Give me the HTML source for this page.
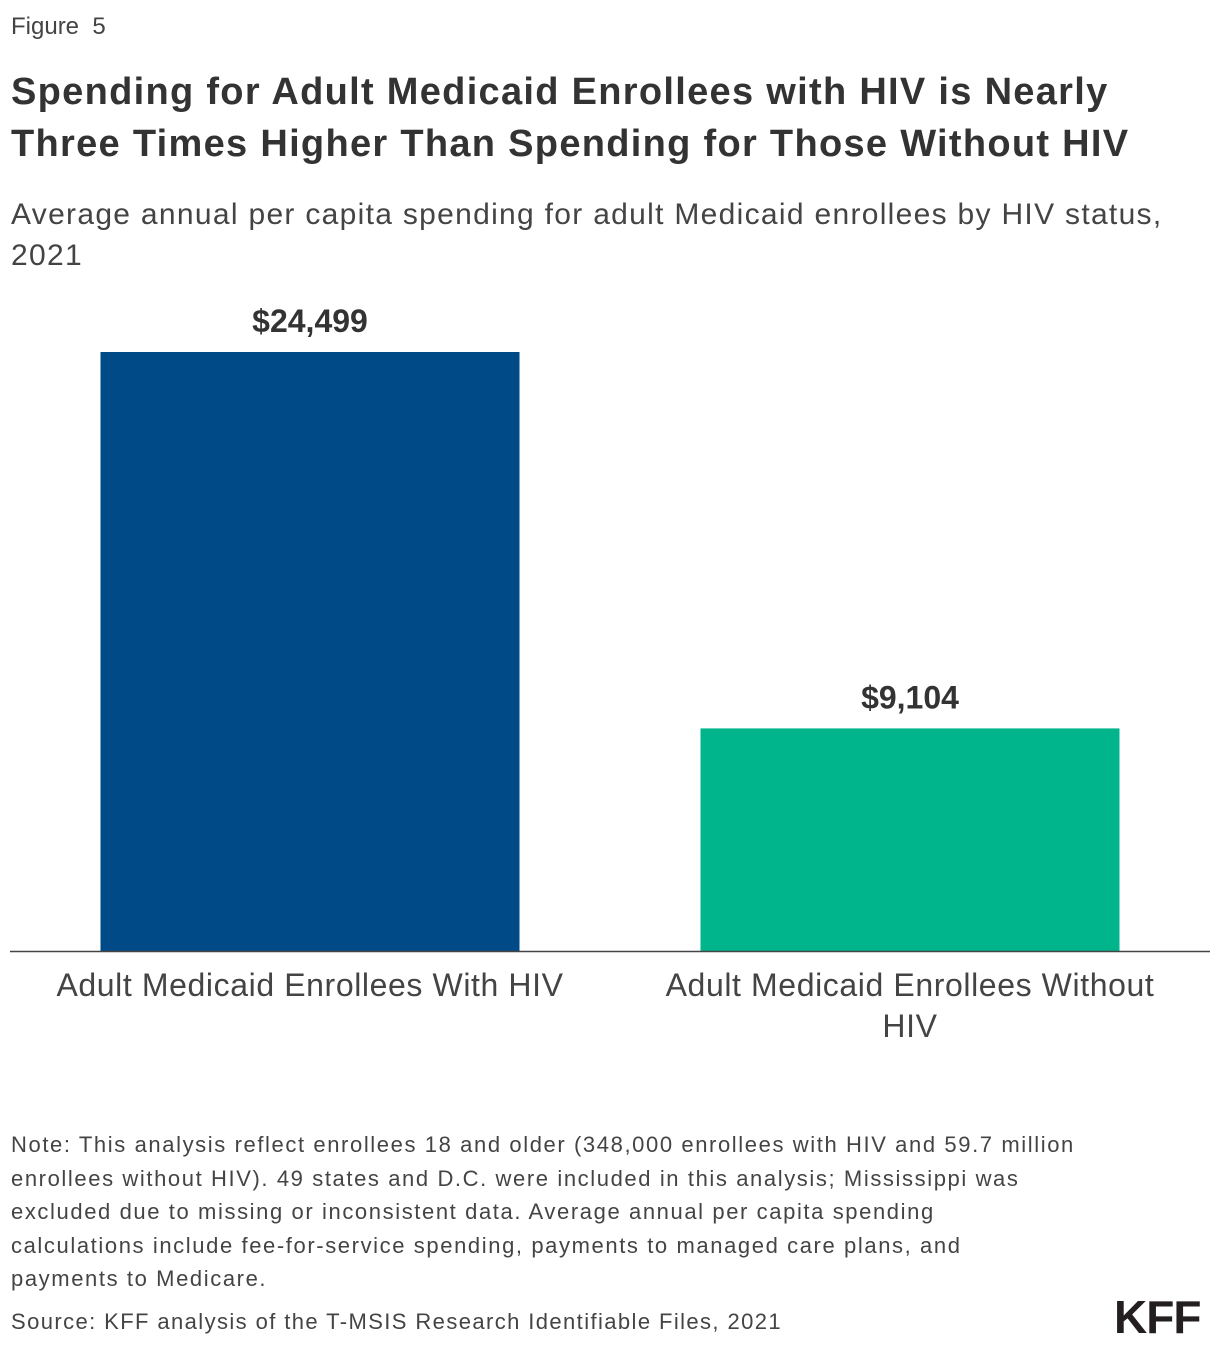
<!DOCTYPE html>
<html><head><meta charset="utf-8"><style>
body{margin:0;width:1220px;height:1350px;background:#fff;font-family:"Liberation Sans",sans-serif;color:#333;position:relative;overflow:hidden}
.t{position:absolute;white-space:nowrap}
</style></head><body>
<div class="t" style="left:11px;top:13px;font-size:24px;color:#444">Figure&nbsp; 5</div>
<div class="t" style="left:11px;top:66px;font-size:38px;font-weight:bold;line-height:52px;letter-spacing:1.3px">Spending for Adult Medicaid Enrollees with HIV is Nearly<br>Three Times Higher Than Spending for Those Without HIV</div>
<div class="t" style="left:11px;top:194px;font-size:30px;line-height:41px;color:#444;letter-spacing:1.3px">Average annual per capita spending for adult Medicaid enrollees by HIV status,<br>2021</div>
<svg id="chart" style="position:absolute;left:0;top:0" width="1220" height="1100"></svg>
<div class="t" style="left:11px;top:1128px;font-size:22px;line-height:33.5px;color:#444;letter-spacing:1.6px">Note: This analysis reflect enrollees 18 and older (348,000 enrollees with HIV and 59.7 million<br>enrollees without HIV). 49 states and D.C. were included in this analysis; Mississippi was<br>excluded due to missing or inconsistent data. Average annual per capita spending<br>calculations include fee-for-service spending, payments to managed care plans, and<br>payments to Medicare.</div>
<div class="t" style="left:11px;top:1309px;font-size:22px;color:#444;letter-spacing:1.4px">Source: KFF analysis of the T-MSIS Research Identifiable Files, 2021</div>
<div class="t" style="left:1114px;top:1290px;font-size:46px;font-weight:bold;color:#231f20;letter-spacing:-1px">KFF</div>
<script>
const categories=["Adult Medicaid Enrollees With HIV","Adult Medicaid Enrollees Without HIV"];
const values=[24499,9104];
const valueLabels=["$24,499","$9,104"];
const colors=["#004a87","#00b58b"];
const svg=document.getElementById('chart');
const NS="http://www.w3.org/2000/svg";
const base=951, top0=352, maxV=24499;
const y=v=>base-(v/maxV)*(base-top0);
const bandL=10, bandW=600, barW=419;
const x=i=>bandL+i*bandW+(bandW-barW)/2;
function mk(t,a){const e=document.createElementNS(NS,t);for(const k in a)e.setAttribute(k,a[k]);svg.appendChild(e);return e;}
const wraps=[["Adult Medicaid Enrollees With HIV"],["Adult Medicaid Enrollees Without","HIV"]];
categories.forEach((c,i)=>{
  const r=mk('rect',{x:x(i),y:y(values[i]),width:barW,height:base-y(values[i]),fill:colors[i]});
  
  
  const cx=x(i)+barW/2;
  const l=mk('text',{x:cx,y:y(values[i])-20,'text-anchor':'middle','font-size':32,'font-weight':'bold',fill:'#333','font-family':'Liberation Sans, sans-serif'});
  l.textContent=valueLabels[i];
  
  
  const lines=(wraps[i]&&wraps[i].join(' ')===c)?wraps[i]:[c];
  lines.forEach((ln,j)=>{
    const t=mk('text',{x:cx,y:996+j*41,'text-anchor':'middle','font-size':32,fill:'#444','letter-spacing':0.6,'font-family':'Liberation Sans, sans-serif'});
    t.textContent=ln;
    
    
  });
});
const ax=mk('line',{x1:10,x2:1210,y1:base+0.5,y2:base+0.5,stroke:'#444','stroke-width':1.5});


</script>
</body></html>
